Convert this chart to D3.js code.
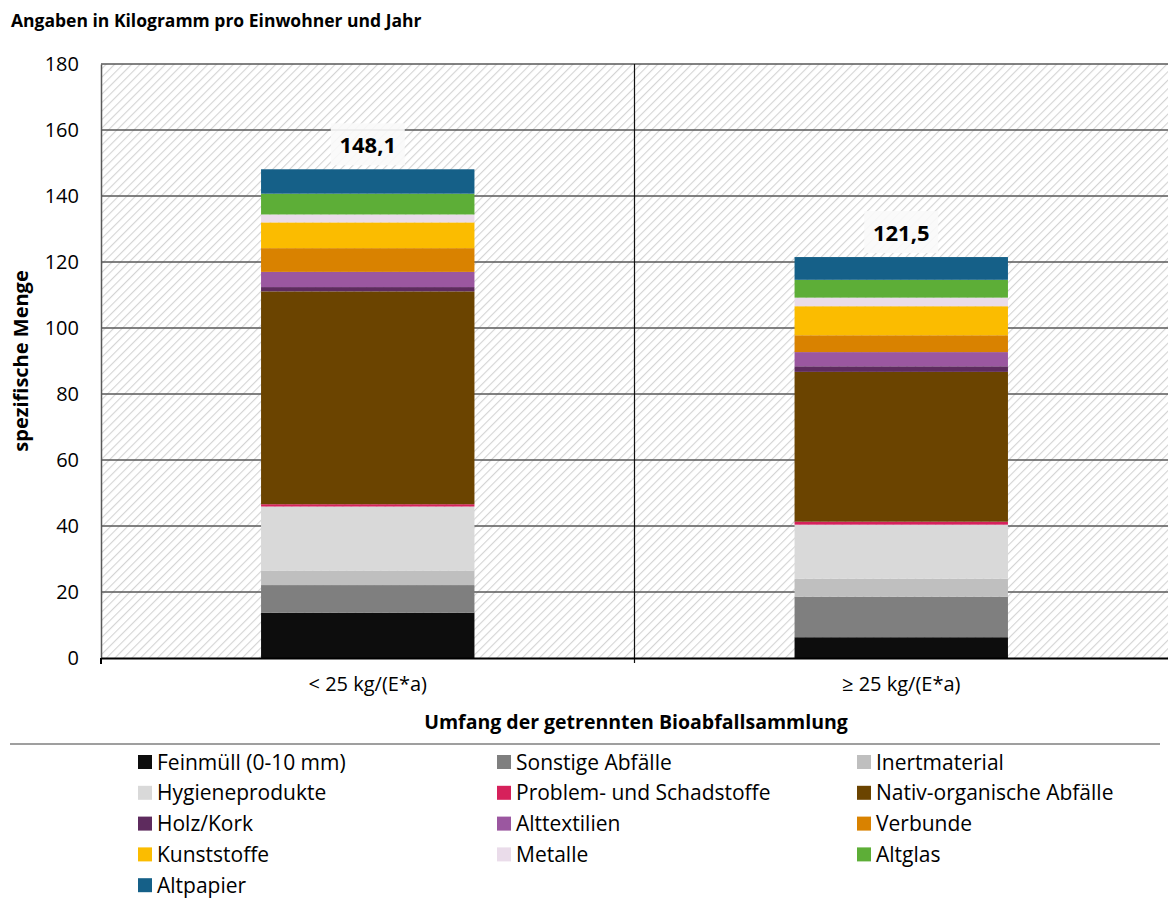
<!DOCTYPE html>
<html><head><meta charset="utf-8">
<script src="https://cdn.jsdelivr.net/npm/d3@7"></script>
<style>body{margin:0;background:#fff;} svg{display:block;font-family:"Open Sans",sans-serif;}</style>
</head><body>
<svg id="c" width="1168" height="899"></svg>
<script>
const categories = ["< 25 kg/(E*a)", "\u2265 25 kg/(E*a)"];
const fractions = ["Feinmüll (0-10 mm)","Sonstige Abfälle","Inertmaterial","Hygieneprodukte","Problem- und Schadstoffe","Nativ-organische Abfälle","Holz/Kork","Alttextilien","Verbunde","Kunststoffe","Metalle","Altglas","Altpapier"];
const colors = ["#0d0d0d","#7f7f7f","#bfbfbf","#d9d9d9","#d6215b","#6b4400","#5e2b5e","#9b57a0","#d98200","#fbbc00","#eadcea","#5dae37","#156088"];
const valuesLow  = [13.7, 8.4, 4.3, 19.5, 0.7, 64.5, 1.3, 4.6, 7.2, 7.8, 2.4, 6.3, 7.4];
const valuesHigh = [6.3, 12.3, 5.4, 16.4, 0.9, 45.4, 1.7, 4.3, 5.1, 8.8, 2.6, 5.4, 6.9];
const totals = ["148,1", "121,5"];
const yTicks = [0,20,40,60,80,100,120,140,160,180];

const svg = d3.select("#c");
const L = 101, R = 1168, T = 64, B = 658;

const defs = svg.append("defs");
const pat = defs.append("pattern").attr("id","hatch").attr("patternUnits","userSpaceOnUse")
  .attr("width",6).attr("height",6).attr("patternTransform","rotate(45)");
pat.append("rect").attr("width",6).attr("height",6).attr("fill","#fff");
pat.append("line").attr("x1",0).attr("y1",0).attr("x2",0).attr("y2",6).attr("stroke","#d4d4d4").attr("stroke-width",2.2);

const x = d3.scaleBand().domain(categories).range([L, R]).paddingInner(0).paddingOuter(0);
const y = d3.scaleLinear().domain([0,180]).range([B, T]);

svg.append("rect").attr("x",L).attr("y",T).attr("width",R-L).attr("height",B-T).attr("fill","url(#hatch)");

// gridlines
svg.append("g").selectAll("line").data(yTicks.filter(d=>d>0)).join("line")
  .attr("x1",L).attr("x2",R).attr("y1",d=>y(d)).attr("y2",d=>y(d))
  .attr("stroke","#595959").attr("stroke-width",1.3);
// category divider
svg.append("line").attr("x1",x(categories[1])).attr("x2",x(categories[1])).attr("y1",T).attr("y2",B+5)
  .attr("stroke","#111").attr("stroke-width",1.2);

// stacks
const rows = categories.map((c,i)=>{
  const o = {cat:c};
  const vals = i===0 ? valuesLow : valuesHigh;
  fractions.forEach((f,j)=>o[f]=vals[j]);
  return o;
});
const stack = d3.stack().keys(fractions)(rows);
const bw = x.bandwidth()*0.4;
svg.append("g").selectAll("g").data(stack).join("g").attr("fill",(d,i)=>colors[i])
  .selectAll("rect").data(d=>d).join("rect")
  .attr("x",d=>x(d.data.cat)+x.bandwidth()/2-bw/2).attr("width",bw)
  .attr("y",d=>y(d[1])).attr("height",d=>y(d[0])-y(d[1]));

// totals labels
const tot = svg.append("g");
categories.forEach((c,i)=>{
  const top = stack[stack.length-1][i][1];
  const cx = x(c)+x.bandwidth()/2;
  const cy = y(top) - 24;
  tot.append("rect").attr("x",cx-37).attr("y",cy-22).attr("width",74).attr("height",42).attr("fill","#fafafa").attr("opacity",0.9);
  tot.append("text").attr("x",cx).attr("y",cy+8).attr("text-anchor","middle")
    .attr("font-weight","bold").attr("font-size",22).attr("fill","#000").text(totals[i]);
});

// axes
const ya = svg.append("g").attr("transform",`translate(${L},0)`)
  .call(d3.axisLeft(y).tickValues(yTicks).tickSize(0).tickPadding(22));
ya.select(".domain").attr("stroke","#595959").attr("stroke-width",1.5);
ya.selectAll("text").attr("font-size",20).attr("fill","#000").attr("font-family","Open Sans");

const xa = svg.append("g").attr("transform",`translate(0,${B})`)
  .call(d3.axisBottom(x).tickSize(0).tickPadding(22));
xa.select(".domain").attr("stroke","#000").attr("stroke-width",2.2);
xa.selectAll("text").attr("font-size",20).attr("fill","#000").attr("font-family","Open Sans").attr("dy","0.55em");
svg.append("line").attr("x1",L).attr("x2",L).attr("y1",B).attr("y2",B+6).attr("stroke","#000").attr("stroke-width",2);

// titles
svg.append("text").attr("x",11).attr("y",27).attr("font-weight","bold").attr("font-size",17.5).text("Angaben in Kilogramm pro Einwohner und Jahr");
svg.append("text").attr("transform","translate(28,361) rotate(-90)").attr("text-anchor","middle")
  .attr("font-weight","bold").attr("font-size",20).text("spezifische Menge");
svg.append("text").attr("x",636).attr("y",729).attr("text-anchor","middle")
  .attr("font-weight","bold").attr("font-size",19.5).text("Umfang der getrennten Bioabfallsammlung");

// legend
svg.append("line").attr("x1",10).attr("x2",1160).attr("y1",744).attr("y2",744).attr("stroke","#7f7f7f").attr("stroke-width",1.5);
const colX = [138, 497, 857], rowY0 = 762, rowH = 30.8;
const lg = svg.append("g").selectAll("g").data(fractions).join("g")
  .attr("transform",(d,i)=>`translate(${colX[i%3]},${rowY0 + Math.floor(i/3)*rowH})`);
lg.append("rect").attr("x",0).attr("y",-7).attr("width",14).attr("height",14).attr("fill",(d,i)=>colors[i]);
lg.append("text").attr("x",19).attr("y",0).attr("dy","0.36em").attr("font-size",21).attr("fill","#000").text(d=>d);
</script>
</body></html>
